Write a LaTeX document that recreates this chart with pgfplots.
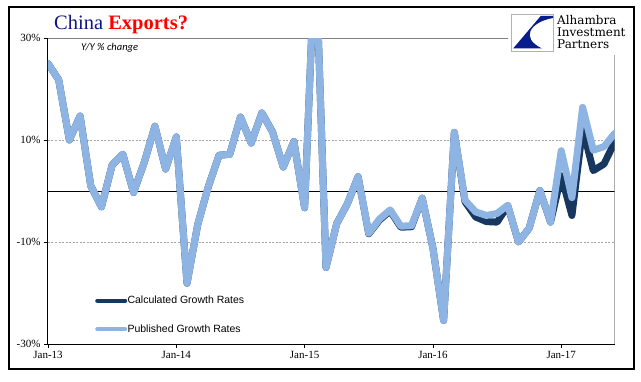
\documentclass[border=0pt]{standalone}
\usepackage{fontspec}
\setmainfont{Liberation Serif}
\newfontfamily\arialfont{Liberation Sans}
\newfontfamily\calibrifont{Carlito}
\newfontfamily\logofont{DejaVu Serif}
\usepackage{pgfplots}
\pgfplotsset{compat=1.18}
\definecolor{lightline}{RGB}{141,180,226}
\definecolor{darkline}{RGB}{23,55,94}
\definecolor{titlenavy}{RGB}{20,20,128}
\definecolor{logonavy}{RGB}{8,28,140}
\begin{document}
\begin{tikzpicture}[x=1pt,y=1pt]
\useasboundingbox (0,0) rectangle (641,381);
\begin{axis}[
  at={(48pt,37pt)}, anchor=south west,
  scale only axis, width=566.7pt, height=306pt,
  xmin=0, xmax=53, ymin=-30, ymax=30,
  axis lines*=left,
  axis line style={black, line width=1pt},
  xtick={0,12,24,36,48},
  xticklabels={Jan-13,Jan-14,Jan-15,Jan-16,Jan-17},
  ytick={-30,-10,10,30},
  yticklabels={-30\%,-10\%,10\%,30\%},
  tick align=outside,
  major tick length=4pt,
  tick style={black, line width=0.8pt},
  ymajorgrids,
  major grid style={gray!70, line width=0.6pt, dash pattern=on 2pt off 1.5pt},
  extra y ticks={0},
  extra y tick labels={},
  extra y tick style={major tick length=0pt, grid=major, major grid style={black, solid, line width=1pt}},
  ticklabel style={font=\fontsize{11}{12}\selectfont},
  legend style={at={(0.083,0.095)}, anchor=west, draw=none, fill=none,
    font=\arialfont\fontsize{10.5}{12}\selectfont, row sep=19pt, inner sep=0pt,
    nodes={inner sep=0.3pt}},
  legend cell align=left,
  legend image code/.code={\draw[#1, line width=4pt, line cap=round] (0pt,0pt) -- (28pt,0pt);},
]
\draw[gray, line width=0.8pt] (rel axis cs:0,1) -- (rel axis cs:1,1) -- (rel axis cs:1,0);
\addplot[darkline, line width=7pt, line join=round, line cap=round] table {
x y
0 25.0
1 21.8
2 10.0
3 14.7
4 1.0
5 -3.1
6 5.1
7 7.2
8 -0.3
9 5.6
10 12.7
11 4.3
12 10.6
13 -18.1
14 -6.6
15 0.9
16 7.0
17 7.2
18 14.5
19 9.4
20 15.3
21 11.6
22 4.7
23 9.7
24 -3.3
25 48.3
26 -15.0
27 -6.4
28 -2.5
29 2.8
30 -8.4
31 -5.7
32 -3.9
33 -7.1
34 -7.0
35 -1.4
36 -11.2
37 -25.4
38 11.5
39 -2.1
40 -5.1
41 -6.0
42 -6.1
43 -2.9
44 -10.0
45 -7.3
46 0.1
47 -6.1
48 3.0
49 -4.8
50 12.3
51 4.0
52 5.3
53 9.6
};
\addlegendentry{Calculated Growth Rates}
\addplot[lightline, line width=7pt, line join=round, line cap=round] table {
x y
0 25.0
1 21.8
2 10.0
3 14.7
4 1.0
5 -3.1
6 5.1
7 7.2
8 -0.3
9 5.6
10 12.7
11 4.3
12 10.6
13 -18.1
14 -6.6
15 0.9
16 7.0
17 7.2
18 14.5
19 9.4
20 15.3
21 11.6
22 4.7
23 9.7
24 -3.3
25 48.3
26 -15.0
27 -6.4
28 -2.5
29 2.8
30 -8.3
31 -5.5
32 -3.7
33 -6.9
34 -6.8
35 -1.4
36 -11.2
37 -25.4
38 11.5
39 -1.8
40 -4.1
41 -4.8
42 -4.4
43 -2.8
44 -10.0
45 -7.3
46 0.1
47 -6.1
48 7.9
49 -1.3
50 16.4
51 8.0
52 8.7
53 11.3
};
\addlegendentry{Published Growth Rates}
\end{axis}
% Y/Y note
\node[anchor=base west, inner sep=0pt, font=\calibrifont\itshape\fontsize{10.5}{12}\selectfont] at (81,330.5) {Y/Y \% change};
% title
\node[anchor=base west, inner sep=0pt] at (54,351.5) {\fontsize{20.5}{24}\selectfont\textcolor{titlenavy}{China} \textcolor{red}{\bfseries Exports?}};
% logo area
\fill[white] (508,326) rectangle (632,371);
\draw[gray!60, fill=white, line width=0.7pt] (511,330) rectangle (553,367);
\fill[logonavy] (513.3,332.7) -- (541.7,332.7) .. controls (520,343) and (530,359) .. (553,363) -- (553,365) -- (540.7,365) -- cycle;
\node[anchor=north west, align=left, inner sep=0pt, text=black, font=\logofont\fontsize{12}{12}\selectfont] at (557,366) {Alhambra\\Investment\\Partners};
% outer border
\draw[black, line width=1.3pt] (9,12) rectangle (634,374);
\end{tikzpicture}
\end{document}
